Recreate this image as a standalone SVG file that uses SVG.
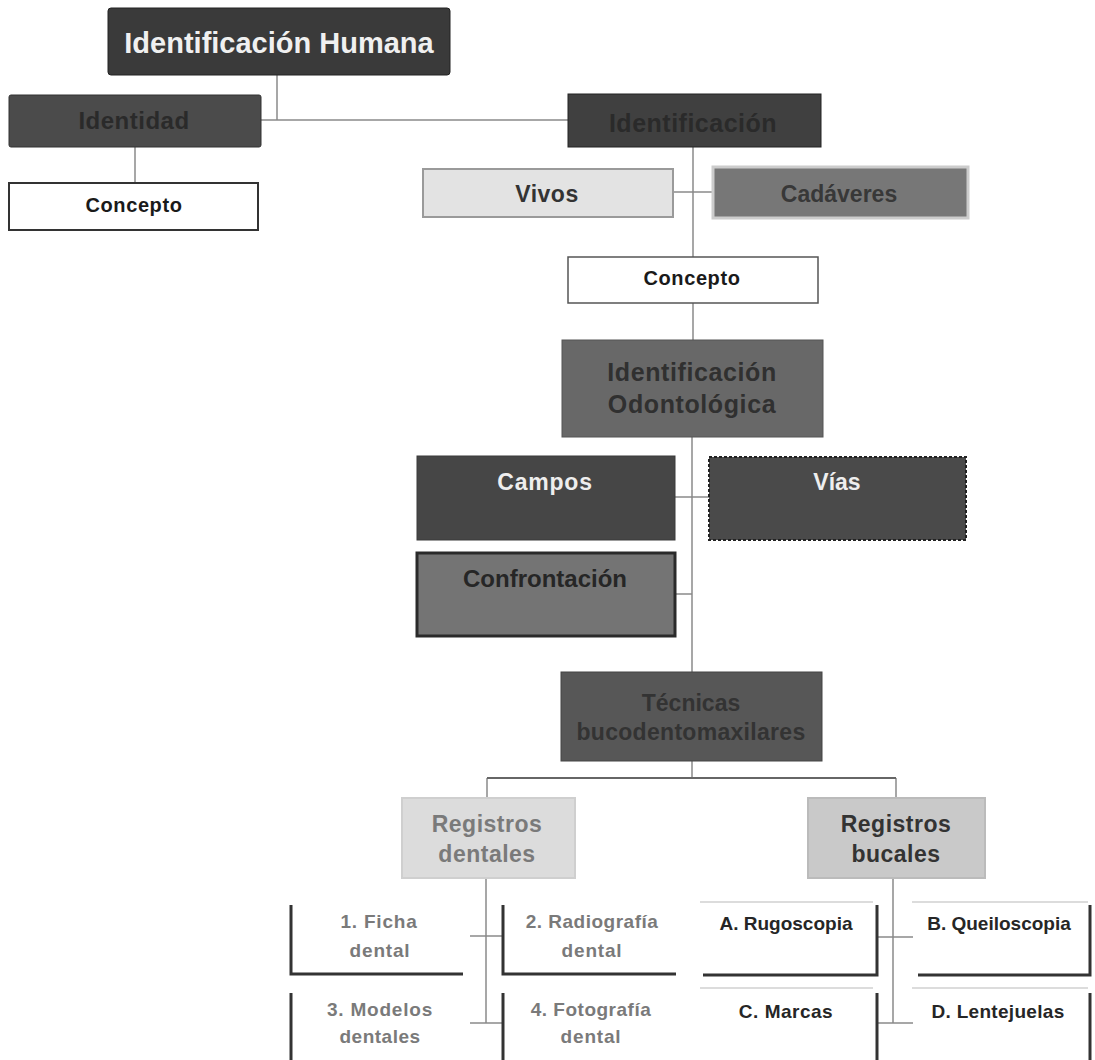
<svg xmlns="http://www.w3.org/2000/svg" width="1095" height="1060" viewBox="0 0 1095 1060">
<style>
text{font-family:"Liberation Sans",Arial,sans-serif;font-weight:bold;text-anchor:middle}
.ln{stroke:#8a8a8a;stroke-width:1.5;fill:none}
.thick{stroke:#333;stroke-width:3;fill:none}
.thin{stroke:#d0d0d0;stroke-width:1.5;fill:none}
.sm{font-size:19px}
.g{fill:#7a7a7a}
.d{fill:#262626}
</style>
<rect width="1095" height="1060" fill="#fff"/>
<g id="connectors">
<path class="ln" d="M277 75V120M261 120H568"/>
<path class="ln" d="M135 147V183"/>
<path class="ln" d="M693 147V257M673 192H713"/>
<path class="ln" d="M693 303V340"/>
<path class="ln" d="M692 437V672M675 497H709M675 594H692"/>
<path class="ln" d="M692 761V778M896 778V798M487 778V798"/>
<path d="M487 778H896" stroke="#666" stroke-width="2.2" fill="none"/>
<path class="ln" d="M486 878V1023M470 936H503M470 1023H503"/>
<path class="ln" d="M893 878V1023M878 937H913M878 1023H913"/>
</g>
<g id="n-humana">
<rect x="108" y="8" width="342" height="67" rx="3" fill="#3a3a3a" stroke="#222" stroke-width="1"/>
<text x="279" y="53" font-size="29" fill="#f0f0f0">Identificación Humana</text>
</g>
<g id="n-identidad">
<rect x="9" y="95" width="252" height="52" rx="2" fill="#4b4b4b" stroke="#333" stroke-width="1"/>
<text x="134" y="129" font-size="24" fill="#2a2a2a" letter-spacing="0.5">Identidad</text>
</g>
<g id="n-concepto1">
<rect x="9" y="183" width="249" height="47" fill="#fff" stroke="#333" stroke-width="2"/>
<text x="134" y="212" font-size="20" fill="#1a1a1a" letter-spacing="0.6">Concepto</text>
</g>
<g id="n-identificacion">
<rect x="568" y="94" width="253" height="53" fill="#404040" stroke="#222" stroke-width="1"/>
<text x="693" y="132" font-size="25" fill="#2a2a2a" letter-spacing="0.5">Identificación</text>
</g>
<g id="n-vivos">
<rect x="423" y="169" width="250" height="48" fill="#e3e3e3" stroke="#9a9a9a" stroke-width="2"/>
<text x="547" y="202" font-size="23" fill="#333" letter-spacing="0.5">Vivos</text>
</g>
<g id="n-cadaveres">
<rect x="713" y="167" width="255" height="51" fill="#777" stroke="#ccc" stroke-width="3"/>
<text x="839" y="202" font-size="23" fill="#383838">Cadáveres</text>
</g>
<g id="n-concepto2">
<rect x="568" y="257" width="250" height="46" fill="#fff" stroke="#555" stroke-width="1.5"/>
<text x="692" y="285" font-size="20" fill="#1a1a1a" letter-spacing="0.6">Concepto</text>
</g>
<g id="n-odonto">
<rect x="562" y="340" width="261" height="97" fill="#686868" stroke="#555" stroke-width="1"/>
<text x="692" y="381" font-size="25" fill="#303030" letter-spacing="0.6">Identificación</text>
<text x="692" y="413" font-size="25" fill="#303030" letter-spacing="0.6">Odontológica</text>
</g>
<g id="n-campos">
<rect x="417" y="456" width="258" height="84" fill="#464646" stroke="#3a3a3a" stroke-width="1"/>
<text x="545" y="490" font-size="23" fill="#eee" letter-spacing="0.8">Campos</text>
</g>
<g id="n-vias">
<rect x="709" y="457" width="257" height="83" fill="#4a4a4a" stroke="#222" stroke-width="2" stroke-dasharray="3 2"/>
<text x="837" y="490" font-size="23" fill="#eee">Vías</text>
</g>
<g id="n-confrontacion">
<rect x="417" y="553" width="258" height="83" fill="#747474" stroke="#2a2a2a" stroke-width="3"/>
<text x="545" y="587" font-size="24" fill="#262626">Confrontación</text>
</g>
<g id="n-tecnicas">
<rect x="561" y="672" width="261" height="89" fill="#575757" stroke="#444" stroke-width="1"/>
<text x="691" y="711" font-size="23" fill="#333">Técnicas</text>
<text x="691" y="740" font-size="23" fill="#333" letter-spacing="0.3">bucodentomaxilares</text>
</g>
<g id="n-regdentales">
<rect x="402" y="798" width="173" height="80" fill="#dcdcdc" stroke="#cfcfcf" stroke-width="2"/>
<text x="487" y="832" font-size="23" fill="#7a7a7a" letter-spacing="0.5">Registros</text>
<text x="487" y="862" font-size="23" fill="#7a7a7a" letter-spacing="0.5">dentales</text>
</g>
<g id="n-regbucales">
<rect x="808" y="798" width="177" height="80" fill="#c9c9c9" stroke="#bbb" stroke-width="2"/>
<text x="896" y="832" font-size="23" fill="#333" letter-spacing="0.5">Registros</text>
<text x="896" y="862" font-size="23" fill="#333" letter-spacing="0.5">bucales</text>
</g>
<g id="n-ficha">
<path class="thick" d="M291 905V974H463"/>
<text x="379" y="928" class="sm g" letter-spacing="0.8">1. Ficha</text>
<text x="380" y="957" class="sm g" letter-spacing="0.8">dental</text>
</g>
<g id="n-radiografia">
<path class="thick" d="M503 905V974H676"/>
<text x="592" y="928" class="sm g" letter-spacing="0.5">2. Radiografía</text>
<text x="592" y="957" class="sm g" letter-spacing="0.8">dental</text>
</g>
<g id="n-modelos">
<path class="thick" d="M291 993V1062"/>
<text x="380" y="1016" class="sm g" letter-spacing="0.8">3. Modelos</text>
<text x="380" y="1043" class="sm g" letter-spacing="0.5">dentales</text>
</g>
<g id="n-fotografia">
<path class="thick" d="M503 993V1062"/>
<text x="591" y="1016" class="sm g" letter-spacing="0.5">4. Fotografía</text>
<text x="591" y="1043" class="sm g" letter-spacing="0.8">dental</text>
</g>
<g id="n-rugoscopia">
<path class="thin" d="M700 902H873"/>
<path class="thick" d="M877 905V975H703"/>
<text x="786" y="930" class="sm d">A. Rugoscopia</text>
</g>
<g id="n-queiloscopia">
<path class="thin" d="M912 902H1088"/>
<path class="thick" d="M1090 905V975H918"/>
<text x="999" y="930" class="sm d">B. Queiloscopia</text>
</g>
<g id="n-marcas">
<path class="thin" d="M700 988H873"/>
<path class="thick" d="M877 993V1062"/>
<text x="786" y="1018" class="sm d" letter-spacing="0.5">C. Marcas</text>
</g>
<g id="n-lentejuelas">
<path class="thin" d="M912 988H1088"/>
<path class="thick" d="M1090 993V1062"/>
<text x="998" y="1018" class="sm d" letter-spacing="0.3">D. Lentejuelas</text>
</g>
</svg>
